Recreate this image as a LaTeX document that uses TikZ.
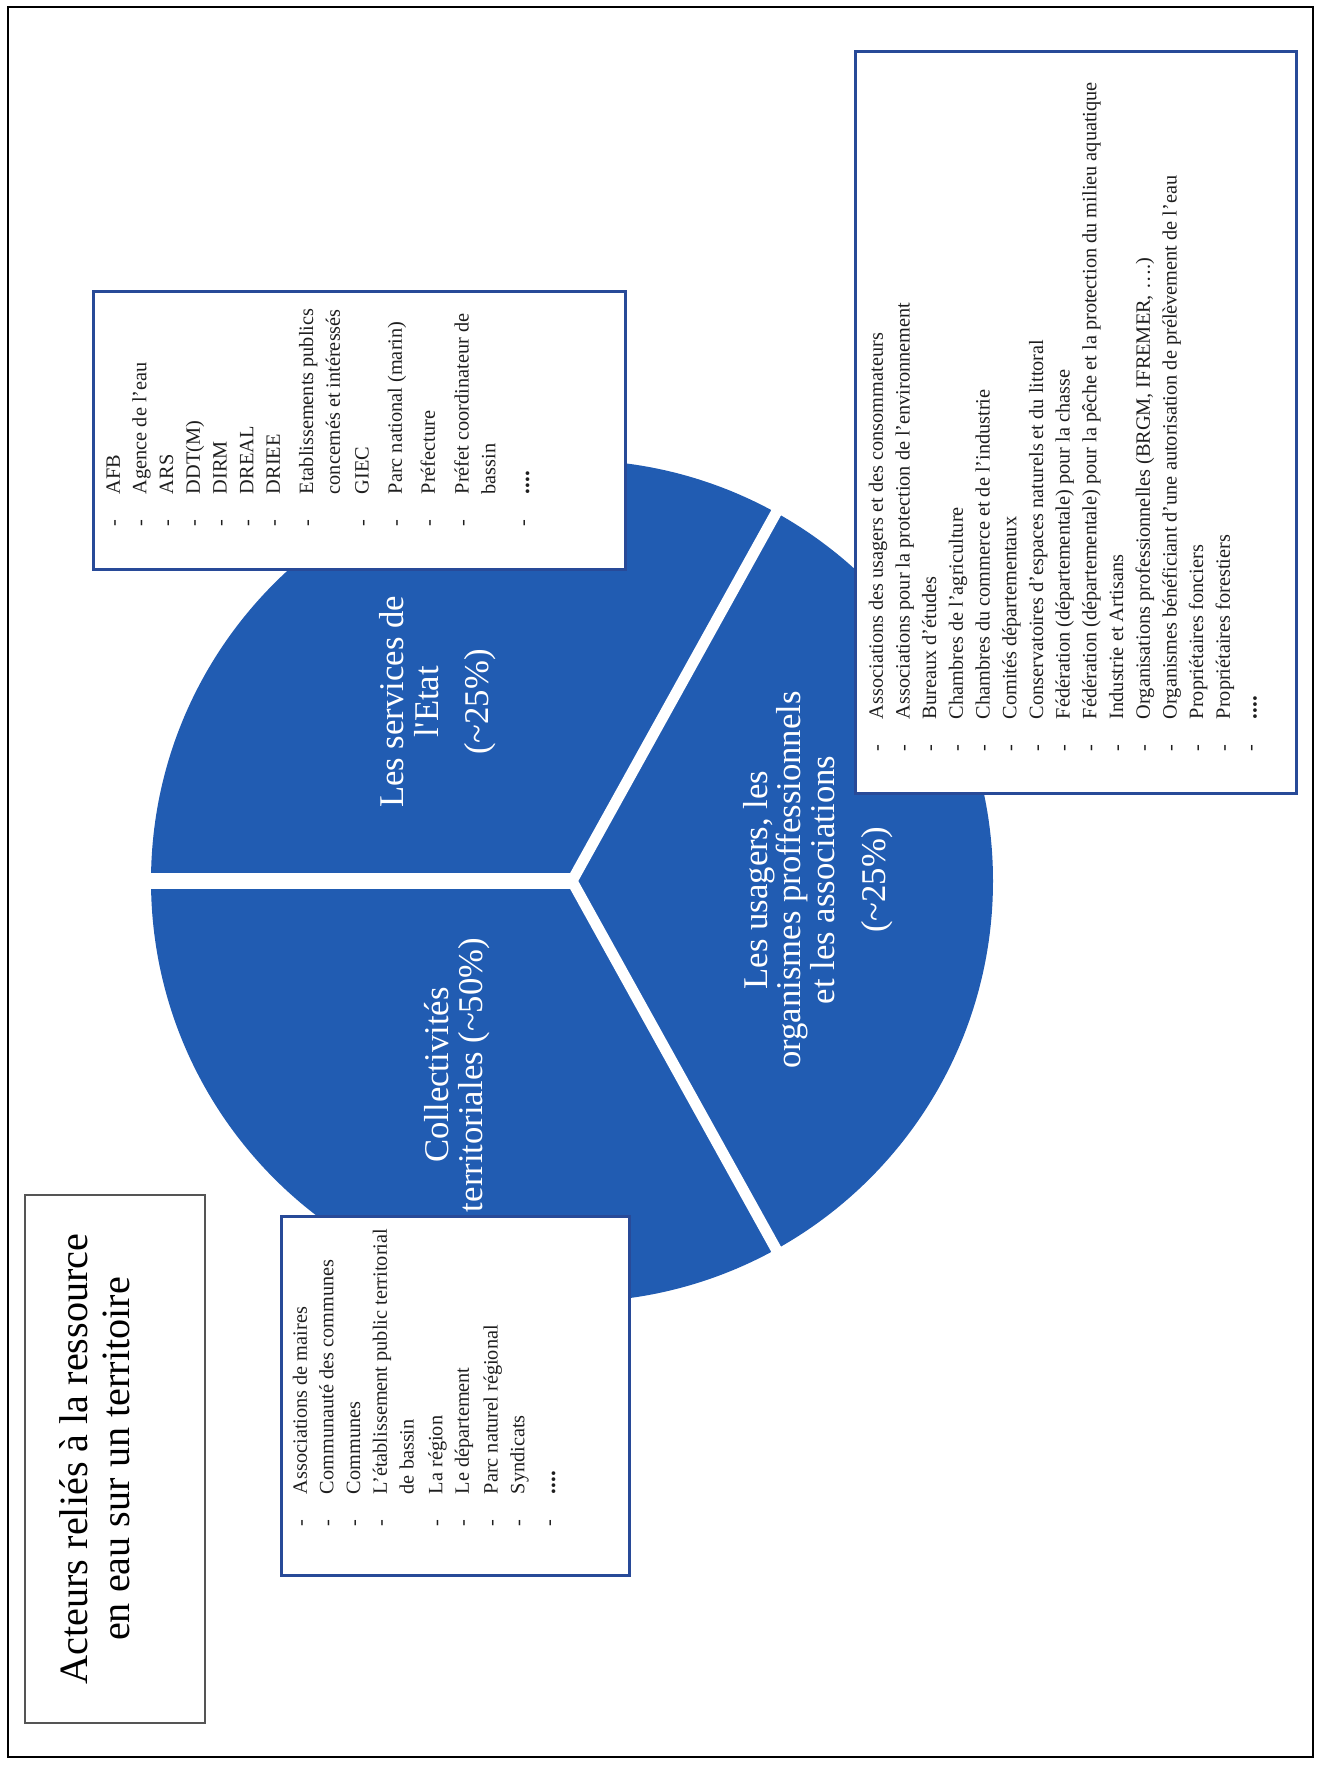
\documentclass[tikz,border=0pt]{standalone}
\usepackage{fontspec}
\setmainfont{Liberation Serif}

\definecolor{pieblue}{RGB}{33,92,178}
\definecolor{boxblue}{RGB}{40,74,152}
\definecolor{framegray}{RGB}{85,85,85}
\definecolor{listgray}{RGB}{30,30,30}

% one item of a list, its continuation line, and the closing dots
\newcommand{\itm}{\makebox[32pt][l]{-}}
\newcommand{\cnt}{\hspace*{32pt}}
\newcommand{\etc}{\itm{\fontsize{23}{26.7}\selectfont\textbf{....}}}

\begin{document}
\begin{tikzpicture}[x=1pt,y=1pt,
    listbox/.style={draw=boxblue,line width=3pt,fill=white,inner sep=0pt},
    listtext/.style={rotate=90,anchor=north west,inner sep=0pt,text=listgray,
      font=\fontsize{20.3}{26.7}\selectfont},
    pielabel/.style={rotate=90,anchor=base,inner sep=0pt,text=white,
      font=\fontsize{34.7}{40}\selectfont},
    titleline/.style={rotate=90,anchor=base,inner sep=0pt,text=black,
      font=\fontsize{40.2}{46}\selectfont},
    gapline/.style={white,line width=#1}]
\useasboundingbox (0,0) rectangle (1321,1765);

% page frame
\draw[line width=1.6pt] (8,8) rectangle (1313,1758);

% the pie and the gaps between its three parts
\coordinate (pc) at (572,884);
\fill[pieblue] (pc) circle[radius=421];
\draw[gapline=16pt] (pc) -- ++(180:440);
\draw[gapline=11pt] (pc) -- ++(61:440);
\draw[gapline=11pt] (pc) -- ++(-61:440);

% labels inside the pie
\foreach \bx/\txt [count=\i] in {403/Les services de,
    438/l\textquotesingle Etat, 488/(\textasciitilde25\%)}
  \node[pielabel] (etat\i) at (\bx,1063) {\txt};
\foreach \bx/\txt [count=\i] in {767/{Les usagers, les},
    800/organismes proffessionnels, 834/et les associations,
    885/(\textasciitilde25\%)}
  \node[pielabel] (usag\i) at (\bx,885) {\txt};
\foreach \bx/\txt [count=\i] in {448/Collectivités,
    482/territoriales (\textasciitilde50\%)}
  \node[pielabel] (coll\i) at (\bx,690) {\txt};

% title
\node[draw=framegray,line width=2pt,inner sep=0pt,
  minimum width=180pt,minimum height=528pt] (titlebox) at (115,306) {};
\foreach \bx/\txt [count=\i] in {87/Acteurs reliés à la ressource,
    129/en eau sur un territoire}
  \node[titleline] (title\i) at (\bx,306) {\txt};

% list boxes
\node[listbox,minimum width=532pt,minimum height=278pt] (etatbox) at (359,1334) {};
\node[listbox,minimum width=441pt,minimum height=742pt] (usagbox) at (1075.5,1342) {};
\node[listbox,minimum width=348pt,minimum height=359pt] (collbox) at (455,368.5) {};

\node[listtext] (etatlist) at (100.9,1238.6) {\begin{tabular}{@{}l@{}}
  \itm AFB\\
  \itm Agence de l’eau\\
  \itm ARS\\
  \itm DDT(M)\\
  \itm DIRM\\
  \itm DREAL\\
  \itm DRIEE\\[6.5pt]
  \itm Etablissements publics\\
  \cnt concernés et intéressés\\[2pt]
  \itm GIEC\\[6.5pt]
  \itm Parc national (marin)\\[6.5pt]
  \itm Préfecture\\[7pt]
  \itm Préfet coordinateur de\\
  \cnt bassin\\[7pt]
  \etc
\end{tabular}};

\node[listtext] (usaglist) at (863.9,1013.6) {\begin{tabular}{@{}l@{}}
  \itm Associations des usagers et des consommateurs\\
  \itm Associations pour la protection de l’environnement\\
  \itm Bureaux d’études\\
  \itm Chambres de l’agriculture\\
  \itm Chambres du commerce et de l’industrie\\
  \itm Comités départementaux\\
  \itm Conservatoires d’espaces naturels et du littoral\\
  \itm Fédération (départementale) pour la chasse\\
  \itm Fédération (départementale) pour la pêche et la protection du milieu aquatique\\
  \itm Industrie et Artisans\\
  \itm Organisations professionnelles (BRGM, IFREMER, ….)\\
  \itm Organismes bénéficiant d’une autorisation de prélèvement de l’eau\\
  \itm Propriétaires fonciers\\
  \itm Propriétaires forestiers\\
  \etc
\end{tabular}};

\node[listtext] (colllist) at (287.9,238.6) {\begin{tabular}{@{}l@{}}
  \itm Associations de maires\\
  \itm Communauté des communes\\
  \itm Communes\\
  \itm L’établissement public territorial\\
  \cnt de bassin\\[2pt]
  \itm La région\\
  \itm Le département\\[2pt]
  \itm Parc naturel régional\\
  \itm Syndicats\\[4pt]
  \etc
\end{tabular}};
\end{tikzpicture}
\end{document}
